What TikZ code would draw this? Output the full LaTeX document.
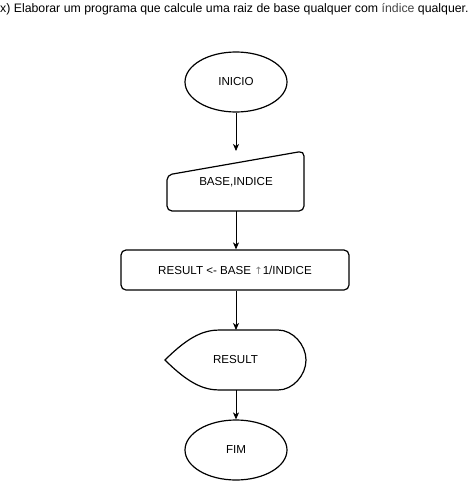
\documentclass[tikz,border=0pt]{standalone}
\usepackage{fontspec}
\setmainfont{Liberation Sans}
\newfontfamily\symfont{DejaVu Sans}
\usetikzlibrary{shapes.geometric,arrows.meta}
\definecolor{dimtext}{HTML}{444444}
\definecolor{arrowgray}{HTML}{808080}
\begin{document}
\begin{tikzpicture}[x=1pt,y=-1pt,
  shapeline/.style={line width=1.2pt,black},
  term/.style={shapeline,draw,ellipse,minimum width=102pt,minimum height=60pt,inner sep=0pt,font=\fontsize{11.6}{13}\selectfont},
  holder/.style={rectangle,inner sep=0pt,font=\fontsize{11.6}{13}\selectfont},
  flow/.style={line width=0.8pt,-{Stealth[length=7pt,width=6pt,inset=2pt]}},
]
\useasboundingbox (0,0) rectangle (471,482);
\fill[white] (0,0) rectangle (471,482);
\node[anchor=base west,inner sep=0pt,font=\fontsize{12.3}{14}\selectfont] (title) at (0,12)
  {x) Elaborar um programa que calcule uma raiz de base qualquer com \textcolor{dimtext}{índice} qualquer.};
% INICIO
\node[term] (inicio) at (236,82) {INICIO};
% manual input
\node[holder,minimum width=137pt,minimum height=60pt] (entrada) at (235.5,181) {};
\draw[shapeline,rounded corners=5pt] (167,175) -- (304,151) -- (304,211) -- (167,211) -- cycle;
\node[holder] (entradatxt) at (236,182) {BASE,INDICE};
\coordinate (entradatop) at (236,151);
\coordinate (entradabot) at (236,211);
% process
\node[holder,shapeline,draw,rounded corners=5pt,minimum width=228pt,minimum height=40pt] (proc) at (235,270)
  {RESULT <- BASE {\symfont\color{arrowgray}\fontsize{10}{12}\selectfont ↑}1/INDICE};
% display
\node[holder,minimum width=141pt,minimum height=60pt] (saida) at (235.5,360) {RESULT};
\draw[shapeline] (165,360) .. controls (190,335) and (205,330) .. (220,330) -- (278,330)
  .. controls (293,330) and (306,345) .. (306,360)
  .. controls (306,375) and (293,390) .. (278,390) -- (220,390)
  .. controls (205,390) and (190,385) .. cycle;
\coordinate (saidatop) at (236,330);
\coordinate (saidabot) at (236,390);
% FIM
\node[term] (fim) at (236,450) {FIM};
% connectors
\draw[flow] (inicio.south) -- (entradatop);
\draw[flow] (entradabot) -- (proc.north -| entradabot);
\draw[flow] (proc.south -| saidatop) -- (saidatop);
\draw[flow] (saidabot) -- (fim.north);
\end{tikzpicture}
\end{document}
